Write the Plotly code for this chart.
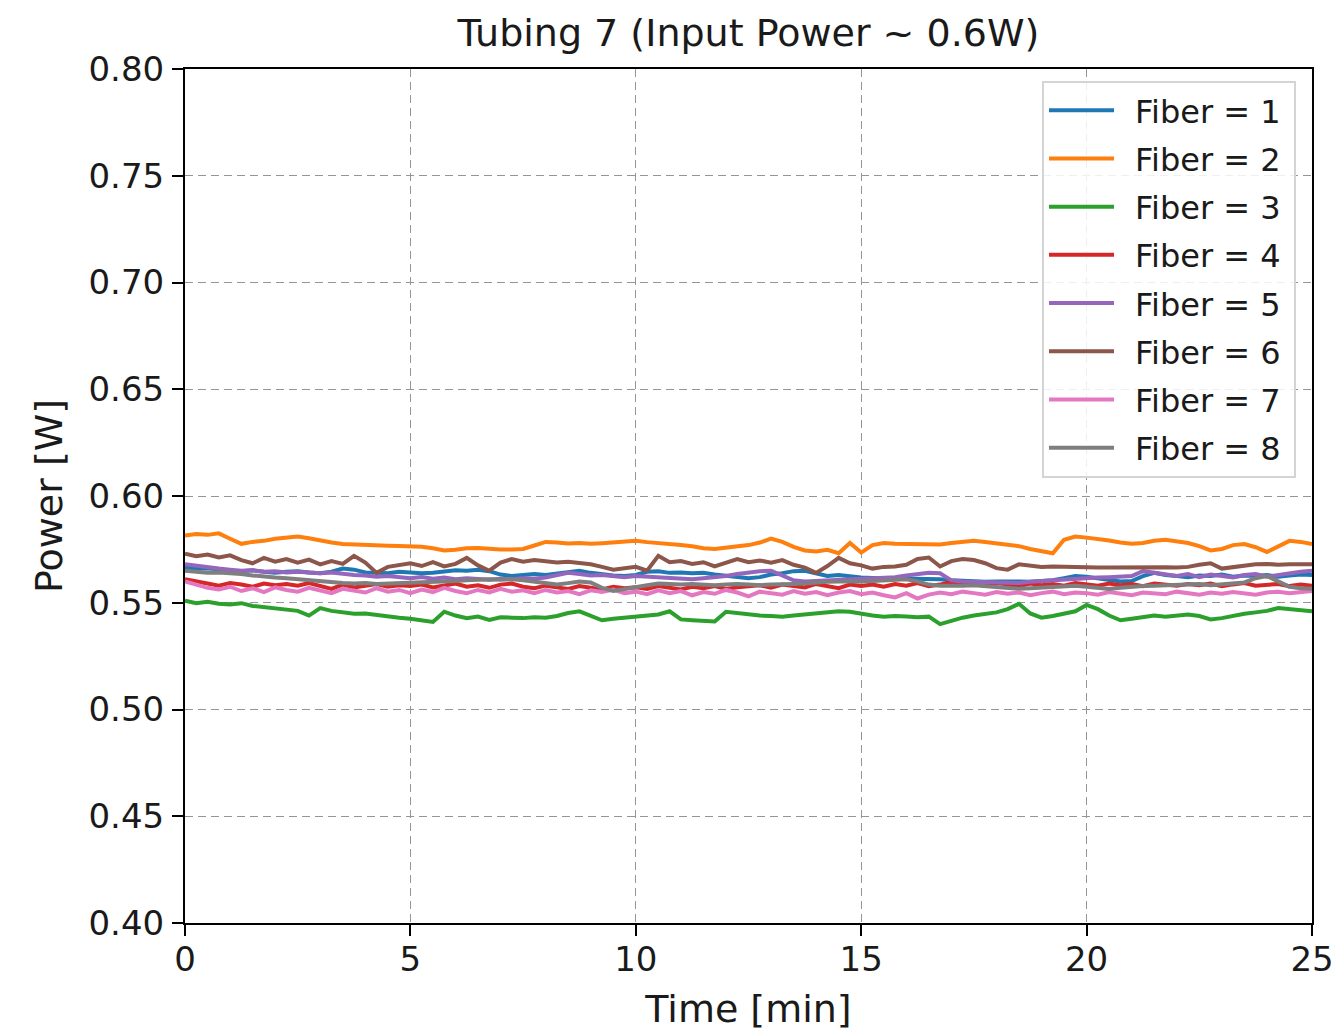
import plotly.graph_objects as go

# time axis in minutes (0.25-min steps)
time_min = [i * 0.25 for i in range(101)]

fiber_1 = [
    0.5665, 0.5660, 0.5662, 0.5655, 0.5650, 0.5648, 0.5652, 0.5645, 0.5640, 0.5645,
    0.5648, 0.5642, 0.5638, 0.5645, 0.5660, 0.5655, 0.5642, 0.5640, 0.5638, 0.5645,
    0.5642, 0.5638, 0.5640, 0.5648, 0.5652, 0.5650, 0.5655, 0.5648, 0.5632, 0.5625,
    0.5628, 0.5635, 0.5630, 0.5638, 0.5645, 0.5650, 0.5640, 0.5632, 0.5628, 0.5625,
    0.5630, 0.5645, 0.5648, 0.5640, 0.5642, 0.5638, 0.5640, 0.5632, 0.5625, 0.5618,
    0.5615, 0.5620, 0.5632, 0.5638, 0.5648, 0.5650, 0.5638, 0.5625, 0.5630, 0.5622,
    0.5618, 0.5616, 0.5615, 0.5614, 0.5615, 0.5612, 0.5615, 0.5610, 0.5605, 0.5602,
    0.5600, 0.5598, 0.5600, 0.5602, 0.5600, 0.5598, 0.5600, 0.5605, 0.5615, 0.5625,
    0.5622, 0.5615, 0.5605, 0.5600, 0.5602, 0.5625, 0.5640, 0.5630, 0.5625, 0.5620,
    0.5628, 0.5625, 0.5632, 0.5622, 0.5628, 0.5625, 0.5630, 0.5622, 0.5628, 0.5632,
    0.5630]

fiber_2 = [
    0.5815, 0.5822, 0.5818, 0.5825, 0.5800, 0.5776, 0.5785, 0.5790, 0.5800, 0.5805,
    0.5810, 0.5802, 0.5790, 0.5782, 0.5775, 0.5772, 0.5770, 0.5768, 0.5767, 0.5766,
    0.5765, 0.5762, 0.5755, 0.5745, 0.5748, 0.5755, 0.5757, 0.5752, 0.5750, 0.5750,
    0.5752, 0.5768, 0.5785, 0.5782, 0.5778, 0.5780, 0.5776, 0.5779, 0.5782, 0.5786,
    0.5790, 0.5784, 0.5778, 0.5775, 0.5770, 0.5765, 0.5755, 0.5752, 0.5758, 0.5765,
    0.5770, 0.5782, 0.5800, 0.5785, 0.5762, 0.5745, 0.5740, 0.5748, 0.5732, 0.5780,
    0.5735, 0.5770, 0.5780, 0.5776, 0.5775, 0.5778, 0.5776, 0.5773, 0.5780, 0.5786,
    0.5790, 0.5785, 0.5778, 0.5772, 0.5765, 0.5752, 0.5740, 0.5732, 0.5795, 0.5810,
    0.5805, 0.5800, 0.5792, 0.5782, 0.5776, 0.5780, 0.5790, 0.5795, 0.5788, 0.5780,
    0.5765, 0.5745, 0.5752, 0.5770, 0.5775, 0.5760, 0.5738, 0.5765, 0.5790, 0.5785,
    0.5775]

fiber_3 = [
    0.5510, 0.5498, 0.5505, 0.5495, 0.5492, 0.5498, 0.5485, 0.5480, 0.5475, 0.5470,
    0.5462, 0.5440, 0.5475, 0.5462, 0.5455, 0.5448, 0.5450, 0.5442, 0.5436, 0.5430,
    0.5425, 0.5418, 0.5410, 0.5458, 0.5440, 0.5428, 0.5435, 0.5420, 0.5432, 0.5430,
    0.5428, 0.5432, 0.5430, 0.5438, 0.5452, 0.5460, 0.5440, 0.5418, 0.5425, 0.5430,
    0.5435, 0.5438, 0.5445, 0.5460, 0.5422, 0.5418, 0.5415, 0.5412, 0.5458, 0.5452,
    0.5445, 0.5440, 0.5438, 0.5435, 0.5440, 0.5445, 0.5450, 0.5455, 0.5460, 0.5458,
    0.5448, 0.5440, 0.5435, 0.5438, 0.5436, 0.5432, 0.5435, 0.5400, 0.5415, 0.5430,
    0.5440, 0.5448, 0.5455, 0.5470, 0.5495, 0.5450, 0.5430, 0.5438, 0.5450, 0.5460,
    0.5490, 0.5470, 0.5440, 0.5418, 0.5425, 0.5432, 0.5440, 0.5435, 0.5442, 0.5445,
    0.5438, 0.5422, 0.5428, 0.5440, 0.5448, 0.5455, 0.5462, 0.5475, 0.5470, 0.5468,
    0.5460]

fiber_4 = [
    0.5610, 0.5598, 0.5590, 0.5580, 0.5592, 0.5585, 0.5575, 0.5590, 0.5582, 0.5588,
    0.5580, 0.5592, 0.5578, 0.5565, 0.5585, 0.5572, 0.5580, 0.5588, 0.5575, 0.5582,
    0.5578, 0.5585, 0.5572, 0.5580, 0.5590, 0.5575, 0.5582, 0.5570, 0.5585, 0.5590,
    0.5575, 0.5568, 0.5580, 0.5572, 0.5565, 0.5578, 0.5570, 0.5562, 0.5575, 0.5568,
    0.5572, 0.5565, 0.5578, 0.5570, 0.5562, 0.5575, 0.5568, 0.5578, 0.5565, 0.5572,
    0.5575, 0.5582, 0.5570, 0.5585, 0.5578, 0.5572, 0.5588, 0.5580, 0.5568, 0.5585,
    0.5578, 0.5585, 0.5575, 0.5588, 0.5580, 0.5592, 0.5578, 0.5585, 0.5598, 0.5582,
    0.5588, 0.5580, 0.5592, 0.5585, 0.5578, 0.5590, 0.5582, 0.5588, 0.5580, 0.5592,
    0.5585, 0.5580, 0.5590, 0.5582, 0.5588, 0.5578, 0.5590, 0.5584, 0.5580, 0.5588,
    0.5582, 0.5590, 0.5578, 0.5586, 0.5592, 0.5580, 0.5585, 0.5588, 0.5578, 0.5585,
    0.5580]

fiber_5 = [
    0.5680, 0.5672, 0.5668, 0.5660, 0.5655, 0.5650, 0.5652, 0.5645, 0.5648, 0.5642,
    0.5645, 0.5640, 0.5638, 0.5642, 0.5635, 0.5630, 0.5628, 0.5622, 0.5625, 0.5618,
    0.5615, 0.5620, 0.5612, 0.5618, 0.5610, 0.5615, 0.5612, 0.5608, 0.5612, 0.5610,
    0.5615, 0.5612, 0.5618, 0.5630, 0.5640, 0.5635, 0.5628, 0.5630, 0.5625, 0.5620,
    0.5625, 0.5622, 0.5618, 0.5615, 0.5612, 0.5610, 0.5615, 0.5620, 0.5625, 0.5635,
    0.5642, 0.5648, 0.5650, 0.5630, 0.5605, 0.5600, 0.5602, 0.5605, 0.5608, 0.5610,
    0.5612, 0.5614, 0.5615, 0.5620, 0.5628, 0.5635, 0.5640, 0.5638, 0.5605, 0.5600,
    0.5598, 0.5595, 0.5592, 0.5590, 0.5592, 0.5598, 0.5602, 0.5605, 0.5610, 0.5612,
    0.5615, 0.5618, 0.5620, 0.5622, 0.5625, 0.5648, 0.5640, 0.5630, 0.5625, 0.5635,
    0.5620, 0.5632, 0.5625, 0.5618, 0.5630, 0.5635, 0.5622, 0.5630, 0.5640, 0.5645,
    0.5650]

fiber_6 = [
    0.5730, 0.5718, 0.5726, 0.5712, 0.5722, 0.5700, 0.5685, 0.5710, 0.5692, 0.5705,
    0.5688, 0.5702, 0.5680, 0.5695, 0.5682, 0.5720, 0.5688, 0.5640, 0.5668, 0.5678,
    0.5685, 0.5672, 0.5690, 0.5670, 0.5682, 0.5710, 0.5675, 0.5650, 0.5688, 0.5705,
    0.5692, 0.5700, 0.5695, 0.5688, 0.5692, 0.5685, 0.5680, 0.5668, 0.5655, 0.5662,
    0.5668, 0.5650, 0.5720, 0.5690, 0.5695, 0.5682, 0.5690, 0.5670, 0.5688, 0.5705,
    0.5690, 0.5698, 0.5688, 0.5700, 0.5678, 0.5665, 0.5640, 0.5672, 0.5710, 0.5685,
    0.5675, 0.5660, 0.5668, 0.5670, 0.5678, 0.5705, 0.5712, 0.5670, 0.5695, 0.5705,
    0.5700, 0.5685, 0.5662, 0.5655, 0.5680, 0.5672, 0.5668, 0.5670, 0.5668, 0.5667,
    0.5666, 0.5665, 0.5665, 0.5666, 0.5665, 0.5664, 0.5665, 0.5666, 0.5665, 0.5668,
    0.5678, 0.5685, 0.5660, 0.5668, 0.5675, 0.5680, 0.5682, 0.5678, 0.5680, 0.5682,
    0.5680]

fiber_7 = [
    0.5600, 0.5585, 0.5570, 0.5562, 0.5575, 0.5555, 0.5568, 0.5550, 0.5572, 0.5560,
    0.5552, 0.5570, 0.5558, 0.5545, 0.5565, 0.5555, 0.5548, 0.5568, 0.5552, 0.5560,
    0.5545, 0.5562, 0.5550, 0.5570, 0.5555, 0.5545, 0.5560, 0.5548, 0.5565, 0.5552,
    0.5558, 0.5545, 0.5560, 0.5548, 0.5555, 0.5540, 0.5558, 0.5550, 0.5562, 0.5545,
    0.5552, 0.5540, 0.5558, 0.5545, 0.5555, 0.5535, 0.5550, 0.5542, 0.5560, 0.5548,
    0.5530, 0.5552, 0.5545, 0.5538, 0.5555, 0.5542, 0.5550, 0.5535, 0.5548, 0.5555,
    0.5540, 0.5548, 0.5535, 0.5525, 0.5545, 0.5520, 0.5538, 0.5548, 0.5540, 0.5552,
    0.5545, 0.5538, 0.5550, 0.5542, 0.5548, 0.5535, 0.5545, 0.5552, 0.5540, 0.5548,
    0.5545, 0.5538, 0.5550, 0.5542, 0.5535, 0.5548, 0.5545, 0.5540, 0.5552, 0.5545,
    0.5538, 0.5548, 0.5542, 0.5550, 0.5545, 0.5538, 0.5548, 0.5552, 0.5545, 0.5550,
    0.5555]

fiber_8 = [
    0.5650, 0.5645, 0.5640, 0.5642, 0.5640, 0.5635, 0.5628, 0.5622, 0.5618, 0.5615,
    0.5610, 0.5605, 0.5600, 0.5595, 0.5592, 0.5590, 0.5592, 0.5588, 0.5590, 0.5592,
    0.5590, 0.5595, 0.5598, 0.5600, 0.5602, 0.5605, 0.5608, 0.5610, 0.5608, 0.5610,
    0.5605, 0.5598, 0.5588, 0.5585, 0.5592, 0.5600, 0.5595, 0.5570, 0.5555, 0.5565,
    0.5575, 0.5582, 0.5590, 0.5588, 0.5585, 0.5588, 0.5585, 0.5582, 0.5585, 0.5588,
    0.5585, 0.5582, 0.5585, 0.5585, 0.5588, 0.5590, 0.5595, 0.5598, 0.5600, 0.5598,
    0.5600, 0.5602, 0.5605, 0.5608, 0.5610, 0.5600, 0.5585, 0.5580, 0.5578, 0.5580,
    0.5582, 0.5578, 0.5575, 0.5570, 0.5565, 0.5568, 0.5572, 0.5575, 0.5578, 0.5580,
    0.5575, 0.5568, 0.5565, 0.5570, 0.5575, 0.5578, 0.5580, 0.5582, 0.5585, 0.5585,
    0.5588, 0.5582, 0.5585, 0.5590, 0.5595, 0.5615, 0.5625, 0.5600, 0.5575, 0.5568,
    0.5565]

series_names = ["Fiber = 1", "Fiber = 2", "Fiber = 3", "Fiber = 4",
                "Fiber = 5", "Fiber = 6", "Fiber = 7", "Fiber = 8"]
series_values = [fiber_1, fiber_2, fiber_3, fiber_4,
                 fiber_5, fiber_6, fiber_7, fiber_8]
colors = ["#1f77b4", "#ff7f0e", "#2ca02c", "#d62728",
          "#9467bd", "#8c564b", "#e377c2", "#7f7f7f"]

x_ticks = [0, 5, 10, 15, 20, 25]
y_ticks = [0.40, 0.45, 0.50, 0.55, 0.60, 0.65, 0.70, 0.75, 0.80]

FONT = "DejaVu Sans"
TXT = "#1a1a1a"

fig = go.Figure()
for i, (name, vals, col) in enumerate(zip(series_names, series_values, colors)):
    fig.add_trace(go.Scatter(x=time_min, y=vals, mode="lines",
                             name="\u2002" + name + "\u2005",
                             legendgroup=f"g{i}",
                             line=dict(color=col, width=4)))

axis_common = dict(
    showline=True, linecolor="black", linewidth=2, mirror=True,
    ticks="outside", ticklen=11, tickwidth=2, tickcolor="black",
    showgrid=True, gridcolor="#959595", griddash="8px,5px", gridwidth=1.3,
    zeroline=False,
    tickfont=dict(family=FONT, size=34, color=TXT),
)

fig.update_layout(
    width=1340, height=1031,
    paper_bgcolor="white", plot_bgcolor="white",
    margin=dict(l=177, r=36, t=61, b=116),
    title=dict(text="Tubing 7 (Input Power ~ 0.6W)", x=0.5, xref="paper",
               xanchor="center", y=0.976, yref="container", yanchor="middle",
               font=dict(family=FONT, size=38, color=TXT)),
    xaxis=dict(range=[0, 25], tickvals=x_ticks, ticktext=[str(v) for v in x_ticks],
               ticklabelstandoff=-6,
               title=dict(text="Time [min]", font=dict(family=FONT, size=38, color=TXT),
                          standoff=18),
               **axis_common),
    yaxis=dict(range=[0.40, 0.80], tickvals=y_ticks,
               ticktext=[f"{v:.2f}" for v in y_ticks],
               ticklabelstandoff=1,
               title=dict(text="Power [W]", font=dict(family=FONT, size=38, color=TXT),
                          standoff=14),
               **axis_common),
    legend=dict(x=0.9858, y=0.986, xanchor="right", yanchor="top",
                bgcolor="rgba(255,255,255,0.85)", bordercolor="#d4d4d4", borderwidth=2,
                font=dict(family=FONT, size=32, color=TXT),
                tracegroupgap=3.6, itemwidth=65),
    showlegend=True,
)

fig.write_html("out.html")
